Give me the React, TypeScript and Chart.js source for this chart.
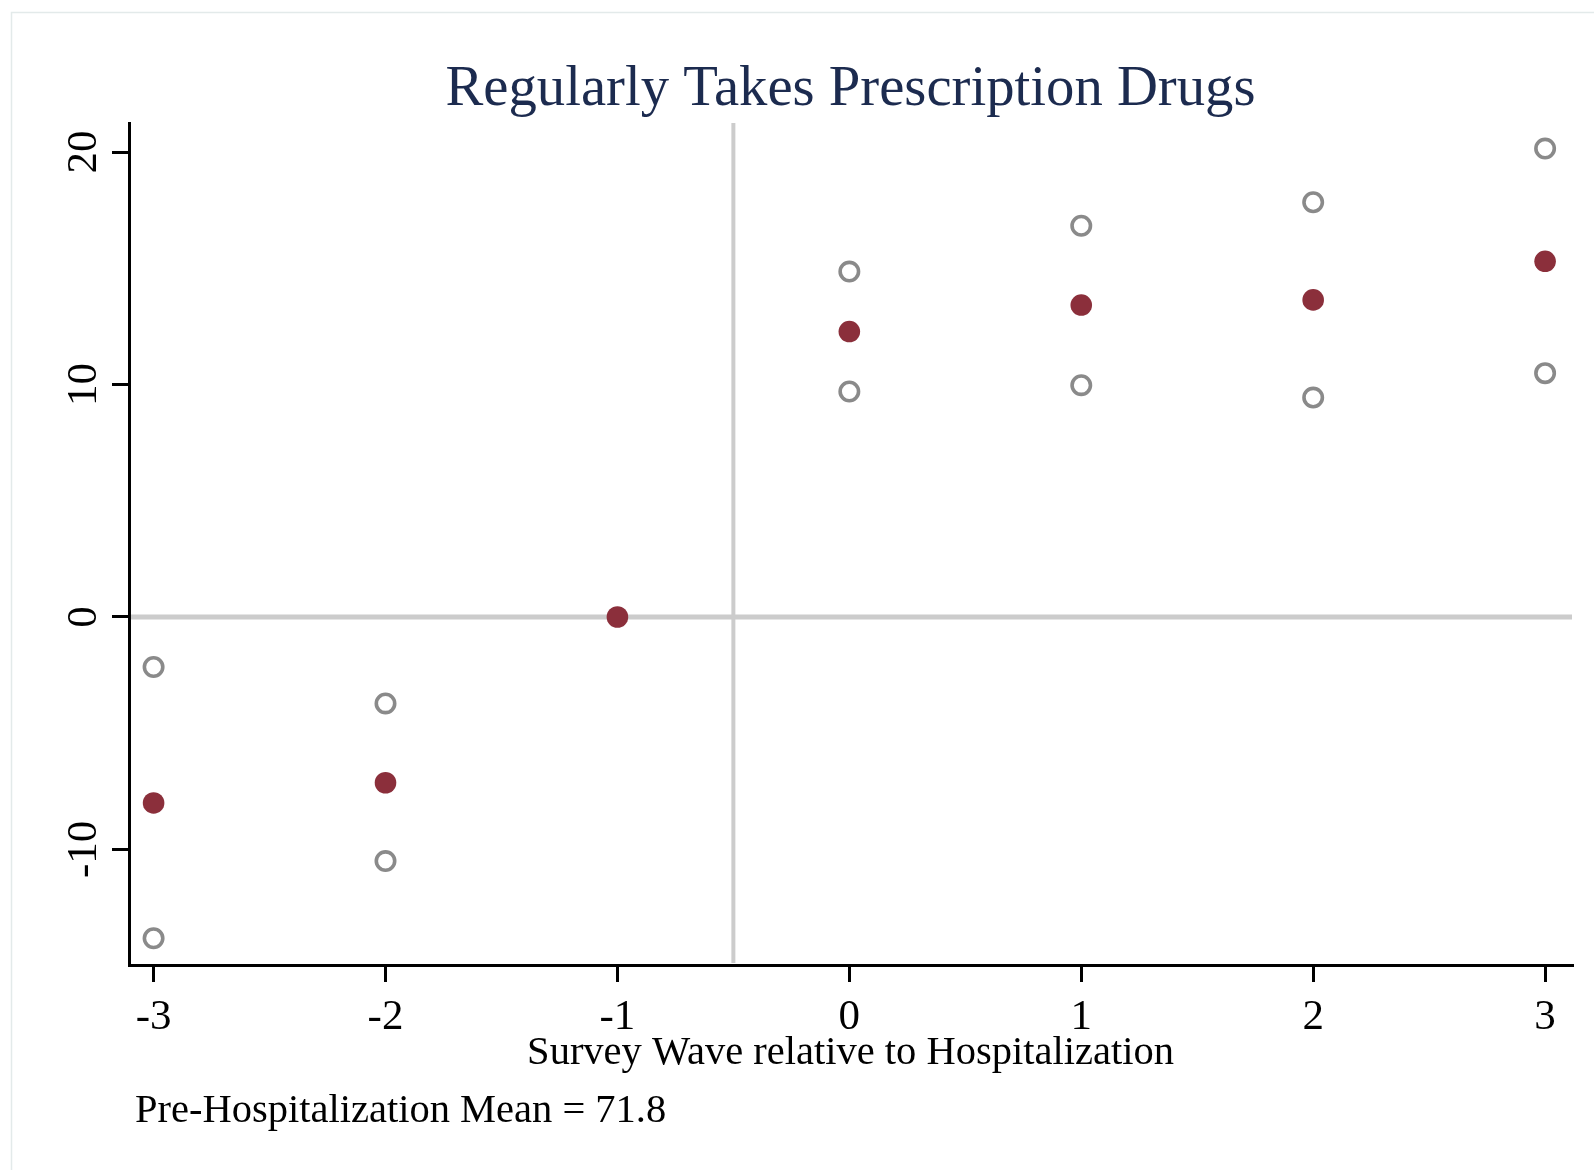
import { useEffect, useRef } from "react";
import { Chart, registerables } from "chart.js";

Chart.register(...registerables);

// Survey waves relative to the hospitalization event
const WAVES = [-3, -2, -1, 0, 1, 2, 3];
// Point estimates (percentage points)
const ESTIMATES = [-8.0, -7.13, 0, 12.28, 13.42, 13.64, 15.3];
// Confidence interval bounds (none for the omitted reference wave)
const CI_UPPER = [-2.15, -3.72, null, 14.86, 16.83, 17.84, 20.15];
const CI_LOWER = [-13.82, -10.5, null, 9.7, 9.97, 9.44, 10.49];

const X_TICKS = [-3, -2, -1, 0, 1, 2, 3];
const Y_TICKS = [-10, 0, 10, 20];
const X_MIN = -3.106;
const X_MAX = 3.116;
const Y_MIN = -14.97;
const Y_MAX = 21.25;

const EVENT_LINE_X = -0.5;
const BASELINE_Y = 0;

const TITLE = "Regularly Takes Prescription Drugs";
const X_TITLE = "Survey Wave relative to Hospitalization";
const NOTE = "Pre-Hospitalization Mean = 71.8";

const SERIF = '"Liberation Serif", "Times New Roman", serif';
const W = 1594;
const H = 1170;

const toPoints = (ys: (number | null)[]) =>
  WAVES.map((x, i) => ({ x, y: ys[i] })).filter((p) => p.y !== null) as {
    x: number;
    y: number;
  }[];

const decor = {
  id: "decor",
  beforeDraw(chart: any) {
    const { ctx } = chart;
    ctx.save();
    ctx.fillStyle = "#ffffff";
    ctx.fillRect(0, 0, W, H);
    // light outer frame
    ctx.strokeStyle = "#e3eaea";
    ctx.lineWidth = 1.5;
    ctx.beginPath();
    ctx.moveTo(11.5, H);
    ctx.lineTo(11.5, 12.5);
    ctx.lineTo(W, 12.5);
    ctx.stroke();
    ctx.restore();
  },
  beforeDatasetsDraw(chart: any) {
    const { ctx, chartArea, scales } = chart;
    const xp = scales.x.getPixelForValue(EVENT_LINE_X);
    const yp = scales.y.getPixelForValue(BASELINE_Y);
    ctx.save();
    ctx.strokeStyle = "#cccccc";
    ctx.lineWidth = 5;
    ctx.beginPath();
    ctx.moveTo(chartArea.left + 2, yp);
    ctx.lineTo(chartArea.right, yp);
    ctx.stroke();
    ctx.lineWidth = 4;
    ctx.beginPath();
    ctx.moveTo(xp, chartArea.top);
    ctx.lineTo(xp, chartArea.bottom - 2);
    ctx.stroke();
    ctx.restore();
  },
  afterDraw(chart: any) {
    const { ctx, chartArea, scales } = chart;
    const cx = (chartArea.left + chartArea.right) / 2;
    ctx.save();
    // rotated y tick labels
    ctx.fillStyle = "#000000";
    ctx.font = `43px ${SERIF}`;
    ctx.textAlign = "center";
    ctx.textBaseline = "alphabetic";
    for (const v of Y_TICKS) {
      const y = scales.y.getPixelForValue(v);
      ctx.save();
      ctx.translate(96, y);
      ctx.rotate(-Math.PI / 2);
      ctx.fillText(String(v), 0, 0);
      ctx.restore();
    }
    // title
    ctx.fillStyle = "#1c2b4f";
    ctx.font = `56.7px ${SERIF}`;
    ctx.fillText(TITLE, cx, 105);
    // x axis title
    ctx.fillStyle = "#000000";
    ctx.font = `40.5px ${SERIF}`;
    ctx.fillText(X_TITLE, cx, 1064);
    // note
    ctx.textAlign = "left";
    ctx.fillText(NOTE, 135, 1122);
    ctx.restore();
  },
};

export default function App() {
  const ref = useRef<HTMLCanvasElement | null>(null);

  useEffect(() => {
    if (!ref.current) return;
    const chart = new Chart(ref.current, {
      type: "scatter",
      data: {
        datasets: [
          {
            label: "CI upper",
            data: toPoints(CI_UPPER),
            pointStyle: "circle",
            pointRadius: 9.2,
            pointBorderWidth: 3.6,
            pointBorderColor: "#8a8a8a",
            pointBackgroundColor: "rgba(255,255,255,0)",
            order: 2,
          },
          {
            label: "CI lower",
            data: toPoints(CI_LOWER),
            pointStyle: "circle",
            pointRadius: 9.2,
            pointBorderWidth: 3.6,
            pointBorderColor: "#8a8a8a",
            pointBackgroundColor: "rgba(255,255,255,0)",
            order: 2,
          },
          {
            label: "Estimate",
            data: toPoints(ESTIMATES),
            pointStyle: "circle",
            pointRadius: 10.8,
            pointBorderWidth: 0,
            pointBackgroundColor: "#8b2f3b",
            order: 1,
          },
        ],
      },
      options: {
        responsive: false,
        animation: false,
        layout: { padding: { top: 123, right: 22, left: 0, bottom: 0 } },
        plugins: {
          legend: { display: false },
          tooltip: { enabled: false },
          title: { display: false },
        },
        scales: {
          x: {
            type: "linear",
            min: X_MIN,
            max: X_MAX,
            afterBuildTicks: (s: any) => {
              s.ticks = X_TICKS.map((value) => ({ value }));
            },
            afterFit: (s: any) => {
              s.height = 205;
            },
            border: { display: true, color: "#000000", width: 3 },
            grid: {
              display: true,
              drawOnChartArea: false,
              drawTicks: true,
              tickLength: 17,
              lineWidth: 3,
              color: "#000000",
            },
            ticks: {
              color: "#000000",
              font: { family: SERIF, size: 43 },
              padding: 10,
              maxRotation: 0,
              minRotation: 0,
              callback: (v: any) => String(v),
            },
          },
          y: {
            type: "linear",
            min: Y_MIN,
            max: Y_MAX,
            afterBuildTicks: (s: any) => {
              s.ticks = Y_TICKS.map((value) => ({ value }));
            },
            afterFit: (s: any) => {
              s.width = 129;
            },
            border: { display: true, color: "#000000", width: 3 },
            grid: {
              display: true,
              drawOnChartArea: false,
              drawTicks: true,
              tickLength: 17,
              lineWidth: 3,
              color: "#000000",
            },
            ticks: { display: false },
          },
        },
      },
      plugins: [decor],
    });
    return () => chart.destroy();
  }, []);

  return (
    <div style={{ position: "absolute", left: 0, top: 0, width: W, height: H }}>
      <canvas ref={ref} width={W} height={H} style={{ display: "block" }} />
    </div>
  );
}
